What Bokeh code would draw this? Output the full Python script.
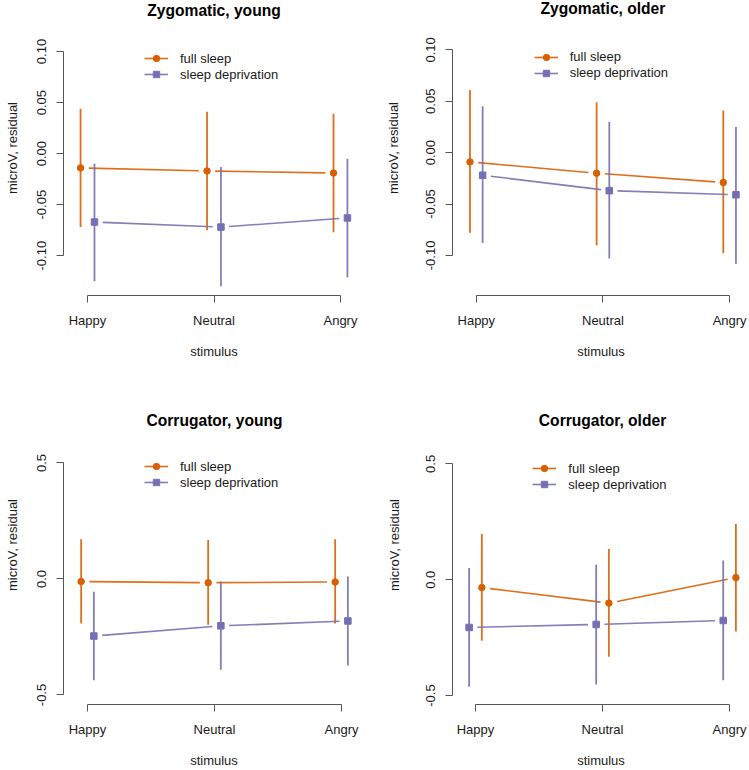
import numpy as np
from bokeh.plotting import figure
from bokeh.layouts import gridplot
from bokeh.models import (FixedTicker, PrintfTickFormatter, Legend, LegendItem, Range1d,
                          Label)
from bokeh.embed import file_html
from bokeh.resources import INLINE

# ---------------- data ----------------
categories = ["Happy", "Neutral", "Angry"]
series_names = ["full sleep", "sleep deprivation"]

# Zygomatic, young
zyg_young_full = [-0.014, -0.017, -0.019]
zyg_young_full_lo = [-0.072, -0.075, -0.077]
zyg_young_full_hi = [0.044, 0.041, 0.039]
zyg_young_dep = [-0.067, -0.072, -0.063]
zyg_young_dep_lo = [-0.125, -0.130, -0.121]
zyg_young_dep_hi = [-0.010, -0.013, -0.005]

# Zygomatic, older
zyg_older_full = [-0.009, -0.020, -0.029]
zyg_older_full_lo = [-0.078, -0.090, -0.098]
zyg_older_full_hi = [0.061, 0.049, 0.041]
zyg_older_dep = [-0.022, -0.037, -0.041]
zyg_older_dep_lo = [-0.088, -0.103, -0.108]
zyg_older_dep_hi = [0.045, 0.030, 0.025]

# Corrugator, young
cor_young_full = [-0.011, -0.016, -0.013]
cor_young_full_lo = [-0.192, -0.197, -0.192]
cor_young_full_hi = [0.171, 0.168, 0.171]
cor_young_dep = [-0.246, -0.202, -0.181]
cor_young_dep_lo = [-0.436, -0.391, -0.373]
cor_young_dep_hi = [-0.055, -0.011, 0.011]

# Corrugator, older
cor_older_full = [-0.034, -0.101, 0.009]
cor_older_full_lo = [-0.263, -0.332, -0.223]
cor_older_full_hi = [0.197, 0.132, 0.240]
cor_older_dep = [-0.206, -0.193, -0.176]
cor_older_dep_lo = [-0.462, -0.452, -0.434]
cor_older_dep_hi = [0.051, 0.065, 0.083]

zyg_ticks = [-0.10, -0.05, 0.0, 0.05, 0.10]
cor_ticks = [-0.5, 0.0, 0.5]

# ---------------- style ----------------
ORANGE = "#D95F02"
PURPLE = "#7570B3"
FONT = "Liberation Sans"
AXIS_COL = "#555555"
TEXT_COL = "#1a1a1a"


def panel(title, full, full_lo, full_hi, dep, dep_lo, dep_hi, offsets, ticks, fmt,
          width, height, borders, xr, yr, legend_pos, title_top, ylab_standoff):
    left, right, bottom = borders
    frame_h = height - bottom
    p = figure(width=width, height=height, x_range=Range1d(*xr), y_range=Range1d(*yr),
               output_backend="svg", toolbar_location=None,
               min_border_left=left, min_border_right=right,
               min_border_top=0, min_border_bottom=bottom)
    p.outline_line_color = None
    p.grid.visible = False
    p.background_fill_color = "white"
    p.border_fill_color = "white"

    x = np.arange(1, len(categories) + 1)
    # title, centred on the middle category, near the top of the panel
    p.add_layout(Label(x=(x[0] + x[-1]) / 2, y=frame_h - title_top, x_units="data",
                       y_units="screen", text=title, text_align="center",
                       text_baseline="middle", text_font=FONT, text_font_size="15.6px",
                       text_font_style="bold", text_color="black"))

    items = []
    specs = [
        (series_names[0], full, full_lo, full_hi, offsets[0], ORANGE, "circle"),
        (series_names[1], dep, dep_lo, dep_hi, offsets[1], PURPLE, "square"),
    ]
    g = 0.065
    for name, mean, lo, hi, off, color, marker in specs:
        xs = x + off
        mean = np.array(mean, dtype=float)
        p.segment(xs, lo, xs, hi, line_color=color, line_width=1.8, line_alpha=0.9)
        x0, x1 = xs[:-1], xs[1:]
        y0, y1 = mean[:-1], mean[1:]
        seg = p.segment(x0 + g * (x1 - x0), y0 + g * (y1 - y0),
                        x1 - g * (x1 - x0), y1 - g * (y1 - y0),
                        line_color=color, line_width=1.6, line_alpha=0.9)
        pts = p.scatter(xs, mean, marker=marker, size=6.5, fill_color=color,
                        line_color=color)
        items.append(LegendItem(label=name, renderers=[seg, pts]))

    legend = Legend(items=items, location=legend_pos, orientation="vertical",
                    glyph_width=24, glyph_height=16, label_height=16,
                    label_standoff=12, spacing=0, padding=0, margin=0,
                    border_line_color=None, background_fill_alpha=0,
                    label_text_font=FONT, label_text_font_size="13px",
                    label_text_color=TEXT_COL)
    p.add_layout(legend, "center")

    # x axis
    xa = p.xaxis[0]
    xa.ticker = FixedTicker(ticks=[int(v) for v in x])
    xa.major_label_overrides = {int(v): c for v, c in zip(x, categories)}
    xa.bounds = (1, len(categories))
    xa.axis_label = "stimulus"
    # y axis
    ya = p.yaxis[0]
    ya.ticker = FixedTicker(ticks=ticks)
    ya.formatter = PrintfTickFormatter(format=fmt)
    ya.bounds = (ticks[0], ticks[-1])
    ya.axis_label = "microV, residual"
    ya.major_label_orientation = "vertical"
    for ax in (xa, ya):
        ax.axis_line_color = AXIS_COL
        ax.major_tick_line_color = AXIS_COL
        ax.minor_tick_line_color = None
        ax.major_tick_out = 7
        ax.major_tick_in = 0
        ax.major_label_text_font = FONT
        ax.major_label_text_font_size = "13px"
        ax.major_label_text_color = TEXT_COL
        ax.axis_label_text_font = FONT
        ax.axis_label_text_font_size = "13px"
        ax.axis_label_text_font_style = "normal"
        ax.axis_label_text_color = TEXT_COL
    xa.major_label_standoff = 10
    xa.axis_label_standoff = 13
    ya.major_label_standoff = 10
    ya.axis_label_standoff = ylab_standoff
    return p


p1 = panel("Zygomatic, young", zyg_young_full, zyg_young_full_lo, zyg_young_full_hi,
           zyg_young_dep, zyg_young_dep_lo, zyg_young_dep_hi, (-0.055, 0.055),
           zyg_ticks, "%.2f", 375, 385, (63, 11, 90), (0.810, 3.190),
           (-0.139, 0.150), (81, 212.7), 10, 15)
p2 = panel("Zygomatic, older", zyg_older_full, zyg_older_full_lo, zyg_older_full_hi,
           zyg_older_dep, zyg_older_dep_lo, zyg_older_dep_hi, (-0.05, 0.05),
           zyg_ticks, "%.2f", 374, 385, (75, 0, 90), (0.812, 3.157),
           (-0.139, 0.148), (81.7, 214.3), 8, 23)
p3 = panel("Corrugator, young", cor_young_full, cor_young_full_lo, cor_young_full_hi,
           cor_young_dep, cor_young_dep_lo, cor_young_dep_hi, (-0.05, 0.05),
           cor_ticks, "%.1f", 375, 385, (63, 11, 63), (0.811, 3.181),
           (-0.541, 0.834), (81, 213.6), 38, 15)
p4 = panel("Corrugator, older", cor_older_full, cor_older_full_lo, cor_older_full_hi,
           cor_older_dep, cor_older_dep_lo, cor_older_dep_hi, (0.05, -0.05),
           cor_ticks, "%.1f", 374, 385, (77, 0, 63), (0.819, 3.157),
           (-0.5385, 0.838), (80.3, 212), 38, 22)

grid = gridplot([[p1, p2], [p3, p4]], toolbar_location=None)
open("out.html", "w").write(file_html(grid, INLINE))
